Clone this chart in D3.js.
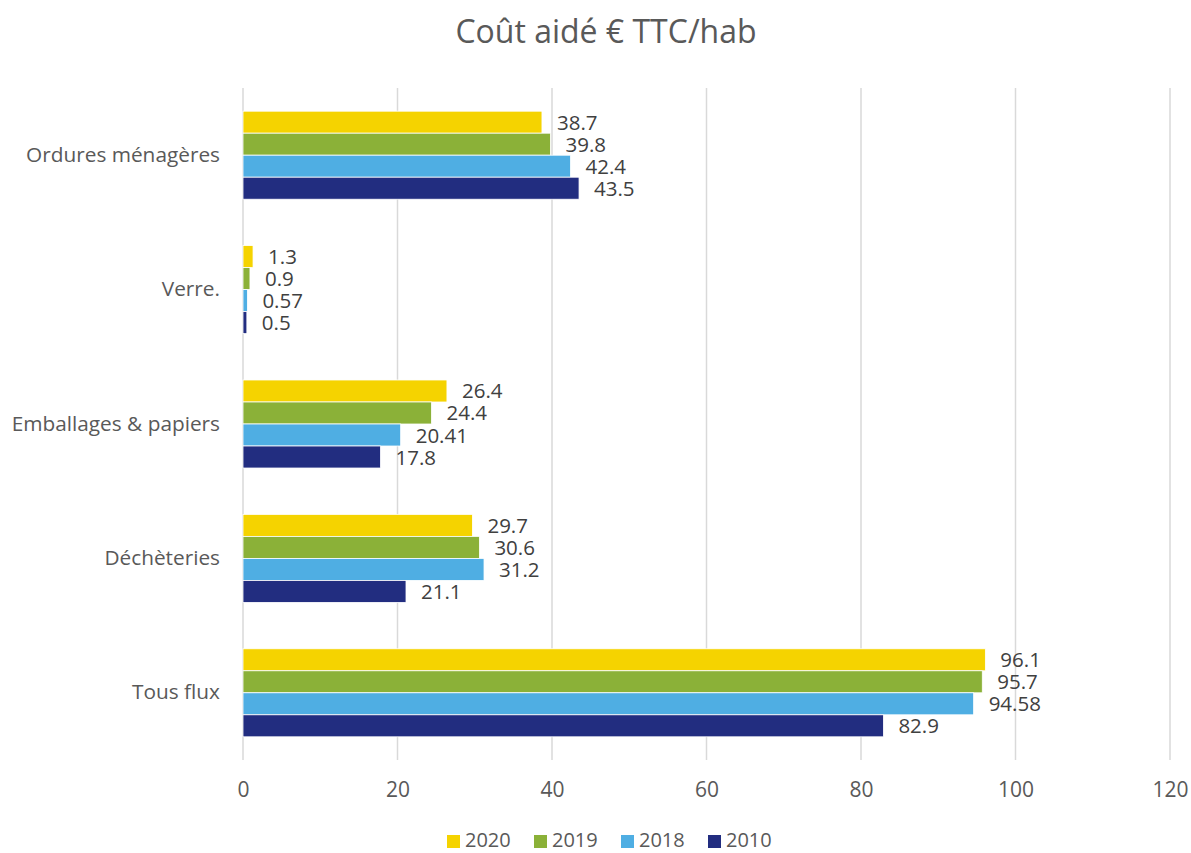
<!DOCTYPE html>
<html><head><meta charset="utf-8">
<script src="https://cdn.jsdelivr.net/npm/d3@7"></script>
<style>body{margin:0;background:#fff;} text{font-family:"Open Sans","Noto Sans",sans-serif;}</style>
</head><body>
<svg id="c" width="1191" height="853"></svg>
<script>
const categories = ["Ordures ménagères","Verre.","Emballages & papiers","Déchèteries","Tous flux"];
const series = ["2020","2019","2018","2010"];
const v2020 = [38.7, 1.3, 26.4, 29.7, 96.1];
const v2019 = [39.8, 0.9, 24.4, 30.6, 95.7];
const v2018 = [42.4, 0.57, 20.41, 31.2, 94.58];
const v2010 = [43.5, 0.5, 17.8, 21.1, 82.9];
const xTicks = [0,20,40,60,80,100,120];
const colors = ["#F5D300","#8BB138","#4FAEE3","#222D80"];
const values = [v2020, v2019, v2018, v2010];

const svg = d3.select("#c");
const m = {left:243, right:1170, top:88, bottom:760};
const x = d3.scaleLinear().domain([0,120]).range([m.left, m.right]);
const y = d3.scaleBand().domain(categories).range([m.top, m.bottom]).paddingInner(0.345).paddingOuter(0.1725);
const ys = d3.scaleBand().domain(series).range([0, y.bandwidth()]);

svg.append("text").attr("x",606).attr("y",43).attr("text-anchor","middle")
  .attr("font-size",32).attr("fill","#595959").text("Coût aidé € TTC/hab");

// gridlines
svg.append("g").selectAll("line").data(xTicks).join("line")
  .attr("x1",d=>x(d)).attr("x2",d=>x(d)).attr("y1",m.top).attr("y2",m.bottom)
  .attr("stroke","#d9d9d9").attr("stroke-width",1.5);

// x axis labels
const xa = svg.append("g").attr("transform",`translate(0,${m.bottom})`)
  .call(d3.axisBottom(x).tickValues(xTicks).tickSize(0).tickPadding(22));
xa.select(".domain").remove();
xa.selectAll("text").attr("font-size",21).attr("fill","#595959").attr("font-family","'Open Sans',sans-serif");

// y axis labels
const ya = svg.append("g").attr("transform",`translate(${m.left},0)`)
  .call(d3.axisLeft(y).tickSize(0).tickPadding(23));
ya.select(".domain").remove();
ya.selectAll("text").attr("font-size",20.8).attr("fill","#595959").attr("font-family","'Open Sans',sans-serif");

// bars
series.forEach((s,si)=>{
  const g = svg.append("g");
  g.selectAll("rect").data(categories).join("rect")
    .attr("x", x(0)).attr("y", c=>y(c)+ys(s))
    .attr("width", (c,i)=>x(values[si][i])-x(0))
    .attr("height", ys.bandwidth())
    .attr("fill", colors[si]).attr("stroke","#fff").attr("stroke-width",0.8);
  g.selectAll("text").data(categories).join("text")
    .attr("x",(c,i)=>x(values[si][i])+15)
    .attr("y", c=>y(c)+ys(s)+ys.bandwidth()/2+7.5)
    .attr("font-size",20.5).attr("fill","#404040")
    .text((c,i)=>values[si][i]);
});

// legend
const lx = [447,534,621,708];
const lg = svg.append("g");
series.forEach((s,i)=>{
  lg.append("rect").attr("x",lx[i]).attr("y",835).attr("width",13).attr("height",13).attr("fill",colors[i]);
  lg.append("text").attr("x",lx[i]+18).attr("y",847).attr("font-size",20).attr("fill","#595959").text(s);
});
</script>
</body></html>
